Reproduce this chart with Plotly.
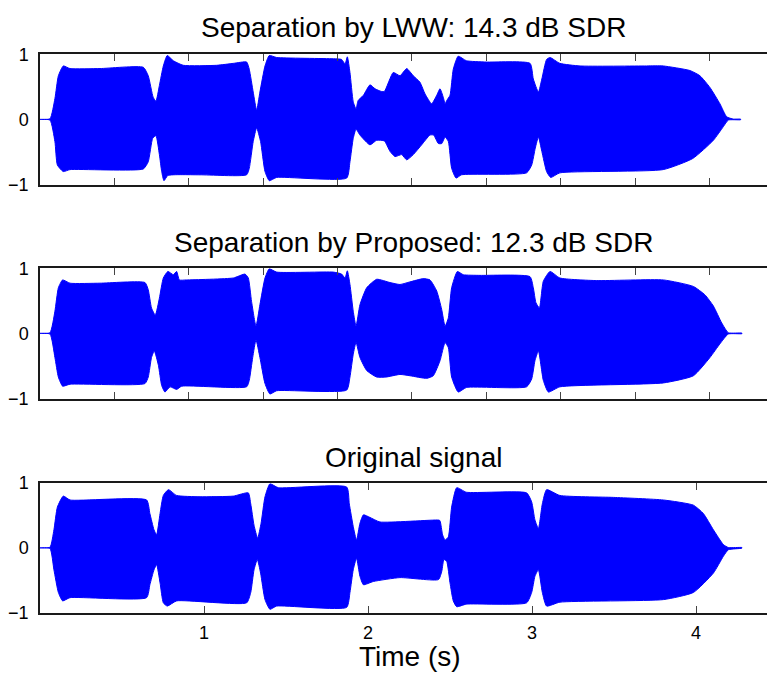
import plotly.graph_objects as go

# ---------------- data (envelopes) ----------------
titles = ["Separation by LWW: 14.3 dB SDR",
          "Separation by Proposed: 12.3 dB SDR",
          "Original signal"]

# LWW separation
lww_up_t = [0, 0.061, 0.091, 0.112, 0.142, 0.183, 0.366, 0.63, 0.66, 0.69, 0.707, 0.728, 0.752, 0.776, 0.813, 0.874,
            1.077, 1.179, 1.26, 1.276, 1.30, 1.321, 1.341, 1.372, 1.398, 1.443, 1.789, 1.839, 1.86, 1.874, 1.89, 1.91,
            1.927, 1.94, 1.972, 2.012, 2.043, 2.08, 2.10, 2.154, 2.195, 2.236, 2.276, 2.317, 2.348, 2.388, 2.419, 2.439,
            2.459, 2.47, 2.48, 2.50, 2.52, 2.55, 2.60, 2.72, 2.988, 3.008, 3.039, 3.06, 3.089, 3.11, 3.17, 3.293,
            3.699, 3.80, 3.963, 4.024, 4.085, 4.146, 4.187, 4.228, 4.272]
lww_up = [0, 0.01, 0.32, 0.67, 0.82, 0.78, 0.78, 0.80, 0.67, 0.34, 0.28, 0.52, 0.82, 0.98, 0.90, 0.83,
          0.83, 0.86, 0.88, 0.77, 0.42, 0.14, 0.42, 0.82, 0.98, 0.95, 0.93, 0.92, 0.85, 0.96, 0.72, 0.27,
          0.16, 0.29, 0.37, 0.53, 0.47, 0.43, 0.43, 0.72, 0.67, 0.78, 0.67, 0.57, 0.39, 0.24, 0.37, 0.47,
          0.34, 0.24, 0.29, 0.37, 0.77, 0.97, 0.90, 0.88, 0.86, 0.62, 0.42, 0.62, 0.92, 0.95, 0.86, 0.82,
          0.82, 0.82, 0.75, 0.67, 0.49, 0.24, 0.04, 0.005, 0.005]
lww_lo_t = [0, 0.061, 0.091, 0.106, 0.142, 0.183, 0.63, 0.66, 0.687, 0.707, 0.728, 0.742, 0.756, 0.78, 0.976,
            1.26, 1.276, 1.30, 1.321, 1.345, 1.372, 1.398, 1.443, 1.87, 1.89, 1.91, 1.927, 1.951, 2.012, 2.053,
            2.10, 2.134, 2.165, 2.205, 2.236, 2.276, 2.327, 2.378, 2.40, 2.429, 2.45, 2.47, 2.49, 2.51, 2.537,
            2.57, 2.967, 2.998, 3.02, 3.039, 3.06, 3.089, 3.114, 3.17, 3.80, 3.98, 4.106, 4.167, 4.197, 4.272]
lww_lo = [0, -0.01, -0.34, -0.70, -0.80, -0.77, -0.76, -0.65, -0.29, -0.25, -0.54, -0.80, -0.94, -0.86, -0.85,
          -0.85, -0.75, -0.34, -0.13, -0.34, -0.80, -0.94, -0.89, -0.90, -0.65, -0.29, -0.15, -0.24, -0.39, -0.32,
          -0.33, -0.49, -0.57, -0.54, -0.62, -0.54, -0.39, -0.24, -0.24, -0.37, -0.37, -0.27, -0.34, -0.75, -0.90,
          -0.85, -0.82, -0.70, -0.44, -0.27, -0.49, -0.80, -0.89, -0.82, -0.77, -0.60, -0.32, -0.11, -0.01, -0.005]

# Proposed separation
prop_up_t = [0, 0.061, 0.091, 0.112, 0.138, 0.183, 0.366, 0.64, 0.66, 0.68, 0.703, 0.728, 0.752, 0.78, 0.813, 0.833,
             0.85, 0.894, 1.179, 1.25, 1.27, 1.29, 1.317, 1.341, 1.372, 1.398, 1.443, 1.789, 1.839, 1.86, 1.874, 1.89,
             1.91, 1.927, 1.951, 1.992, 2.053, 2.134, 2.195, 2.256, 2.337, 2.378, 2.419, 2.449, 2.47, 2.49, 2.51,
             2.545, 2.581, 2.683, 2.988, 3.008, 3.024, 3.045, 3.069, 3.11, 3.17, 3.394, 3.801, 3.984, 4.055, 4.106,
             4.157, 4.197, 4.28]
prop_up = [0, 0.01, 0.34, 0.70, 0.82, 0.77, 0.77, 0.78, 0.67, 0.39, 0.28, 0.54, 0.85, 0.95, 0.90, 0.95,
           0.82, 0.82, 0.85, 0.91, 0.85, 0.49, 0.11, 0.44, 0.85, 0.99, 0.94, 0.94, 0.91, 0.85, 0.96, 0.75,
           0.34, 0.11, 0.44, 0.70, 0.83, 0.78, 0.75, 0.79, 0.84, 0.82, 0.65, 0.37, 0.11, 0.24, 0.70,
           0.95, 0.90, 0.89, 0.87, 0.70, 0.47, 0.39, 0.80, 0.95, 0.85, 0.81, 0.82, 0.72, 0.59, 0.42,
           0.16, 0.01, 0.005]
prop_lo_t = [0, 0.061, 0.091, 0.112, 0.138, 0.183, 0.64, 0.66, 0.68, 0.697, 0.722, 0.742, 0.762, 0.793, 0.833, 0.864,
             1.26, 1.276, 1.297, 1.317, 1.341, 1.372, 1.402, 1.443, 1.87, 1.89, 1.91, 1.927, 1.951, 1.992, 2.053,
             2.11, 2.195, 2.256, 2.358, 2.398, 2.439, 2.47, 2.49, 2.51, 2.55, 2.60, 2.967, 2.998, 3.018, 3.039,
             3.069, 3.10, 3.17, 3.801, 3.984, 4.085, 4.146, 4.197, 4.28]
prop_lo = [0, -0.01, -0.37, -0.67, -0.81, -0.78, -0.77, -0.67, -0.37, -0.27, -0.49, -0.80, -0.90, -0.82, -0.86, -0.81,
           -0.82, -0.72, -0.37, -0.10, -0.37, -0.77, -0.93, -0.88, -0.87, -0.67, -0.32, -0.14, -0.37, -0.57, -0.67,
           -0.67, -0.63, -0.65, -0.69, -0.65, -0.42, -0.14, -0.22, -0.67, -0.90, -0.83, -0.82, -0.70, -0.42, -0.27,
           -0.72, -0.90, -0.82, -0.76, -0.65, -0.37, -0.16, -0.01, -0.005]

# Original signal
orig_up_t = [0, 0.061, 0.085, 0.106, 0.142, 0.183, 0.65, 0.67, 0.695, 0.711, 0.732, 0.752, 0.783, 0.833, 0.976,
             1.179, 1.27, 1.285, 1.305, 1.327, 1.348, 1.372, 1.402, 1.453, 1.87, 1.886, 1.91, 1.93, 1.951, 1.972,
             2.012, 2.073, 2.43, 2.439, 2.455, 2.47, 2.49, 2.51, 2.541, 2.60, 2.967, 2.998, 3.018, 3.039, 3.063,
             3.089, 3.17, 3.496, 3.801, 3.984, 4.045, 4.106, 4.167, 4.197, 4.28]
orig_up = [0, 0.01, 0.28, 0.63, 0.80, 0.74, 0.74, 0.53, 0.28, 0.20, 0.53, 0.81, 0.90, 0.81, 0.79,
           0.80, 0.85, 0.68, 0.35, 0.15, 0.38, 0.79, 0.99, 0.93, 0.94, 0.68, 0.33, 0.12, 0.38, 0.51,
           0.47, 0.40, 0.43, 0.42, 0.20, 0.12, 0.17, 0.63, 0.93, 0.86, 0.85, 0.71, 0.43, 0.30, 0.68,
           0.90, 0.81, 0.78, 0.74, 0.66, 0.53, 0.28, 0.05, 0.005, 0.005]
orig_lo_t = [0, 0.061, 0.085, 0.112, 0.138, 0.183, 0.65, 0.67, 0.695, 0.711, 0.732, 0.752, 0.776, 0.833,
             1.26, 1.285, 1.305, 1.325, 1.345, 1.372, 1.402, 1.443, 1.87, 1.89, 1.91, 1.93, 1.951, 1.972, 2.033,
             2.195, 2.43, 2.45, 2.463, 2.48, 2.50, 2.52, 2.541, 2.60, 2.967, 2.998, 3.018, 3.039, 3.063, 3.089,
             3.17, 3.801, 3.984, 4.106, 4.167, 4.197, 4.28]
orig_lo = [0, -0.01, -0.34, -0.69, -0.82, -0.77, -0.77, -0.57, -0.34, -0.26, -0.54, -0.85, -0.90, -0.82,
           -0.85, -0.69, -0.34, -0.18, -0.39, -0.80, -0.95, -0.90, -0.92, -0.69, -0.34, -0.16, -0.44, -0.57, -0.52,
           -0.46, -0.49, -0.36, -0.18, -0.21, -0.54, -0.82, -0.91, -0.87, -0.85, -0.69, -0.44, -0.34, -0.69, -0.90,
           -0.84, -0.80, -0.69, -0.39, -0.13, -0.03, -0.005]

# ticks: top panels every 10000 samples (fs = 22050 Hz), bottom panel in seconds
fs = 22050
sample_ticks = [k * 10000 / fs for k in range(1, 10)]
sec_ticks = [1, 2, 3, 4]
y_ticks = [-1, 0, 1]
y_ticktext = ["\u22121", "0", "1"]

panels = [(lww_up_t, lww_up, lww_lo_t, lww_lo),
          (prop_up_t, prop_up, prop_lo_t, prop_lo),
          (orig_up_t, orig_up, orig_lo_t, orig_lo)]

# ---------------- layout geometry ----------------
# Target positions are given in reference-picture pixels; convert them to
# figure pixels (page offset of the figure and the capture's vertical scale
# were measured in a calibration run).
X_OFF, Y_OFF, Y_SCALE = 8, 16, 0.975
W, H = 767, 674
def fx(px):
    return (px - X_OFF) / W
def fy(py):
    return 1 - (py / Y_SCALE - Y_OFF) / H

x_left, x_right = 40, 775
x_dom = [fx(x_left), 1.0]
x_range = [0, (x_right - x_left) / 164]   # 164 px per second in the reference
y_px = [(52, 183), (267, 398), (483, 613)]
title_y_px = [25, 241, 457]
BLUE = "#0000ff"
FONT = "Liberation Sans, Arial, Helvetica, sans-serif"

fig = go.Figure()
layout = dict(width=W, height=H, margin=dict(l=0, r=0, t=0, b=0),
              paper_bgcolor="white", plot_bgcolor="white", showlegend=False,
              font=dict(family=FONT, color="black", size=18))
annotations = []
for i, (tu, u, tl, l) in enumerate(panels):
    n = i + 1
    xs = list(tu) + list(tl)[::-1]
    ys = list(u) + list(l)[::-1]
    fig.add_trace(go.Scatter(x=xs, y=ys, mode="lines", fill="toself",
                             fillcolor=BLUE,
                             line=dict(color=BLUE, width=1, shape="spline", smoothing=0.5),
                             xaxis=f"x{n}", yaxis=f"y{n}", hoverinfo="skip"))
    top, bot = y_px[i]
    last = (i == 2)
    layout[f"xaxis{n}"] = dict(
        domain=x_dom, range=x_range, anchor=f"y{n}",
        showline=True, linecolor="#1a1a1a", linewidth=1.5, mirror="ticks",
        ticks="inside", ticklen=7, tickwidth=1, tickcolor="#444",
        tickvals=sec_ticks if last else sample_ticks,
        showticklabels=last, showgrid=False, zeroline=False, ticklabelstandoff=3,
        tickfont=dict(size=18, family=FONT, color="black"))
    layout[f"yaxis{n}"] = dict(
        domain=[fy(bot), fy(top)], range=[-1, 1], anchor=f"x{n}",
        showline=True, linecolor="#1a1a1a", linewidth=1.5, mirror=False,
        ticks="", tickvals=y_ticks, ticktext=y_ticktext, ticklabelstandoff=6,
        showgrid=False, zeroline=False,
        tickfont=dict(size=18, family=FONT, color="black"))
    annotations.append(dict(text=titles[i], x=fx(413), y=fy(title_y_px[i]),
                            xref="paper", yref="paper", xanchor="center", yanchor="middle",
                            showarrow=False, font=dict(size=28, family=FONT, color="black")))

annotations.append(dict(text="Time (s)", x=fx(410), y=fy(657), xref="paper", yref="paper",
                        xanchor="center", yanchor="middle", showarrow=False,
                        font=dict(size=28, family=FONT, color="black")))
layout["annotations"] = annotations
fig.update_layout(**layout)
fig.write_html("out.html")
